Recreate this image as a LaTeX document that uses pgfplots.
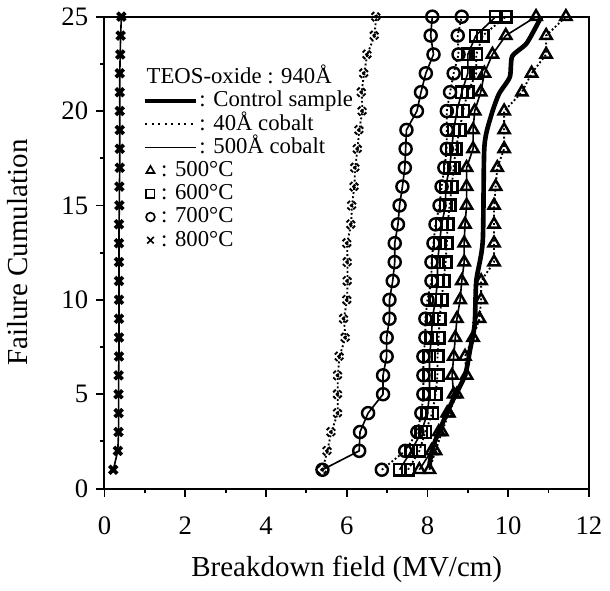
\documentclass[border=0pt]{standalone}
\usepackage{fontspec}
\setmainfont{Liberation Serif}
\usepackage{pgfplots}
\pgfplotsset{compat=1.18}

\pgfplotsset{
  lineleg/.style={legend image code/.code={\draw[##1] (0cm,0cm) -- (0.77cm,0cm);}},
  markleg/.style={legend image code/.code={\draw[##1] plot coordinates {(0.08cm,0cm)};}},
  s500/.style={black, line width=0.7pt, solid},
  s40/.style={black, line width=0.8pt, densely dotted},
  mk/.style={mark options={solid, fill=white, line width=1.05pt}},
}

\begin{document}
\begin{tikzpicture}
\begin{axis}[
  scale only axis, width=7.34cm, height=7.15cm,
  xmin=0, xmax=12, ymin=0, ymax=25,
  xtick={0,2,...,12}, minor xtick={1,3,...,11},
  ytick={0,5,...,25}, minor ytick={2.5,7.5,...,22.5},
  xtick pos=bottom, ytick pos=left, tick align=outside,
  major tick length=3.5pt, minor tick length=2pt,
  tick style={black, line width=0.8pt},
  axis line style={line width=0.9pt},
  ticklabel style={font=\fontsize{11.5}{13}\selectfont},
  xticklabel style={yshift=-5pt},
  /pgf/number format/assume math mode=true,
  label style={font=\fontsize{12.5}{14}\selectfont},
  xlabel={Breakdown field (MV/cm)}, ylabel={Failure Cumulation},
  xlabel shift=2.5pt, ylabel shift=7.5pt,
  legend cell align=left,
  legend style={draw=none, fill=none, at={(axis cs:0.94,22.4)}, anchor=north west,
    font=\fontsize{9.8}{11}\selectfont, row sep=0pt, inner sep=0pt,
    nodes={inner sep=0.5pt, text height=7pt, text depth=2pt}},
]

% 500A cobalt, 800C
\addplot[s500, mk, mark=x, mark size=2.4pt, mark options={line width=1.6pt}, forget plot] coordinates {
(0.22,1)(0.33,2)(0.35,3)(0.35,4)(0.35,5)(0.35,6)(0.36,7)(0.36,8)(0.36,9)(0.36,10)
(0.36,11)(0.36,12)(0.36,13)(0.36,14)(0.37,15)(0.37,16)(0.38,17)(0.38,18)(0.38,19)
(0.38,20)(0.38,21)(0.38,22)(0.39,23)(0.40,24)(0.42,25)};

% 40A cobalt, 800C
\addplot[s40, mk, mark=x, mark size=2.4pt, mark options={line width=1.6pt}, forget plot] coordinates {
(5.40,1)(5.52,2)(5.62,3)(5.78,4)(5.78,5)(5.78,6)(5.82,7)(5.97,8)(5.93,9)(6.01,10)
(6.02,11)(6.02,12)(6.01,13)(6.11,14)(6.13,15)(6.19,16)(6.21,17)(6.27,18)(6.31,19)
(6.39,20)(6.37,21)(6.43,22)(6.51,23)(6.69,24)(6.73,25)};

% 500A cobalt, 700C
\addplot[s500, mk, mark=o, mark size=2.6pt, forget plot] coordinates {
(5.40,1)(6.31,2)(6.33,3)(6.53,4)(6.90,5)(6.90,6)(6.99,7)(6.99,8)(7.06,9)(7.06,10)
(7.14,11)(7.19,12)(7.19,13)(7.27,14)(7.31,15)(7.38,16)(7.44,17)(7.46,18)(7.48,19)
(7.74,20)(7.84,21)(7.96,22)(8.15,23)(8.08,24)(8.12,25)};

% 40A cobalt, 700C
\addplot[s40, mk, mark=o, mark size=2.6pt, forget plot] coordinates {
(6.87,1)(7.45,2)(7.75,3)(7.85,4)(7.90,5)(7.90,6)(7.90,7)(7.95,8)(7.95,9)(8.00,10)
(8.10,11)(8.10,12)(8.15,13)(8.20,14)(8.30,15)(8.35,16)(8.42,17)(8.48,18)(8.48,19)
(8.48,20)(8.56,21)(8.65,22)(8.77,23)(8.75,24)(8.85,25)};

% 500A cobalt, 600C
\addplot[s500, mk, mark=square, mark size=2.5pt, forget plot] coordinates {
(7.31,1)(7.60,2)(7.85,3)(8.00,4)(8.05,5)(8.05,6)(8.05,7)(8.10,8)(8.12,9)(8.20,10)
(8.25,11)(8.25,12)(8.30,13)(8.35,14)(8.45,15)(8.45,16)(8.55,17)(8.60,18)(8.65,19)
(8.73,20)(8.85,21)(9.00,22)(9.00,23)(9.20,24)(9.69,25)};

% 40A cobalt, 600C
\addplot[s40, mk, mark=square, mark size=2.5pt, forget plot] coordinates {
(7.52,1)(7.80,2)(7.95,3)(8.12,4)(8.20,5)(8.25,6)(8.25,7)(8.28,8)(8.30,9)(8.35,10)
(8.40,11)(8.45,12)(8.48,13)(8.50,14)(8.55,15)(8.60,16)(8.65,17)(8.70,18)(8.80,19)
(8.88,20)(9.00,21)(9.21,22)(9.21,23)(9.37,24)(9.94,25)};

% 500A cobalt, 500C
\addplot[s500, mk, mark=triangle, mark size=2.8pt, forget plot] coordinates {
(7.80,1)(8.10,2)(8.28,3)(8.49,4)(8.65,5)(8.61,6)(8.65,7)(8.69,8)(8.73,9)(8.81,10)
(8.85,11)(8.91,12)(8.91,13)(8.93,14)(8.97,15)(8.97,16)(8.97,17)(9.13,18)(9.13,19)
(9.17,20)(9.32,21)(9.41,22)(9.61,23)(9.94,24)(10.69,25)};

% 40A cobalt, 500C
\addplot[s40, mk, mark=triangle, mark size=2.8pt, forget plot] coordinates {
(8.05,1)(8.20,2)(8.36,3)(8.53,4)(8.73,5)(8.97,6)(8.93,7)(9.13,8)(9.29,9)(9.33,10)
(9.33,11)(9.65,12)(9.65,13)(9.65,14)(9.65,15)(9.69,16)(9.73,17)(9.90,18)(9.90,19)
(9.90,20)(10.34,21)(10.58,22)(10.94,23)(10.94,24)(11.43,25)};

% control sample
\addplot[black, line width=2pt, smooth, tension=0.4, forget plot] coordinates {
(8.04,1.1)(8.12,2.1)(8.32,3.2)(8.61,4.6)(8.93,6.0)(9.05,7.3)(9.17,8.7)(9.21,11.0)
(9.37,13.1)(9.41,18.1)(9.57,19.7)(9.77,20.9)(10.04,21.8)(10.10,22.9)(10.46,23.6)(10.82,25)};

\addlegendimage{empty legend}
\addlegendentry{\hspace*{-0.8cm}TEOS-oxide : 940Å}
\addlegendimage{lineleg, black, line width=2pt}
\addlegendentry{: Control sample}
\addlegendimage{lineleg, black, line width=0.8pt, dotted}
\addlegendentry{: 40Å cobalt}
\addlegendimage{lineleg, black, line width=0.6pt}
\addlegendentry{: 500Å cobalt}
\addlegendimage{markleg, only marks, black, mark=triangle, mark size=2pt, mark options={line width=0.7pt}}
\addlegendentry{\hspace*{-0.58cm}: 500°C}
\addlegendimage{markleg, only marks, black, mark=square, mark size=1.8pt, mark options={line width=0.7pt}}
\addlegendentry{\hspace*{-0.58cm}: 600°C}
\addlegendimage{markleg, only marks, black, mark=o, mark size=1.9pt, mark options={line width=0.7pt}}
\addlegendentry{\hspace*{-0.58cm}: 700°C}
\addlegendimage{markleg, only marks, black, mark=x, mark size=2pt, mark options={line width=0.7pt}}
\addlegendentry{\hspace*{-0.58cm}: 800°C}
\end{axis}
\end{tikzpicture}
\end{document}
